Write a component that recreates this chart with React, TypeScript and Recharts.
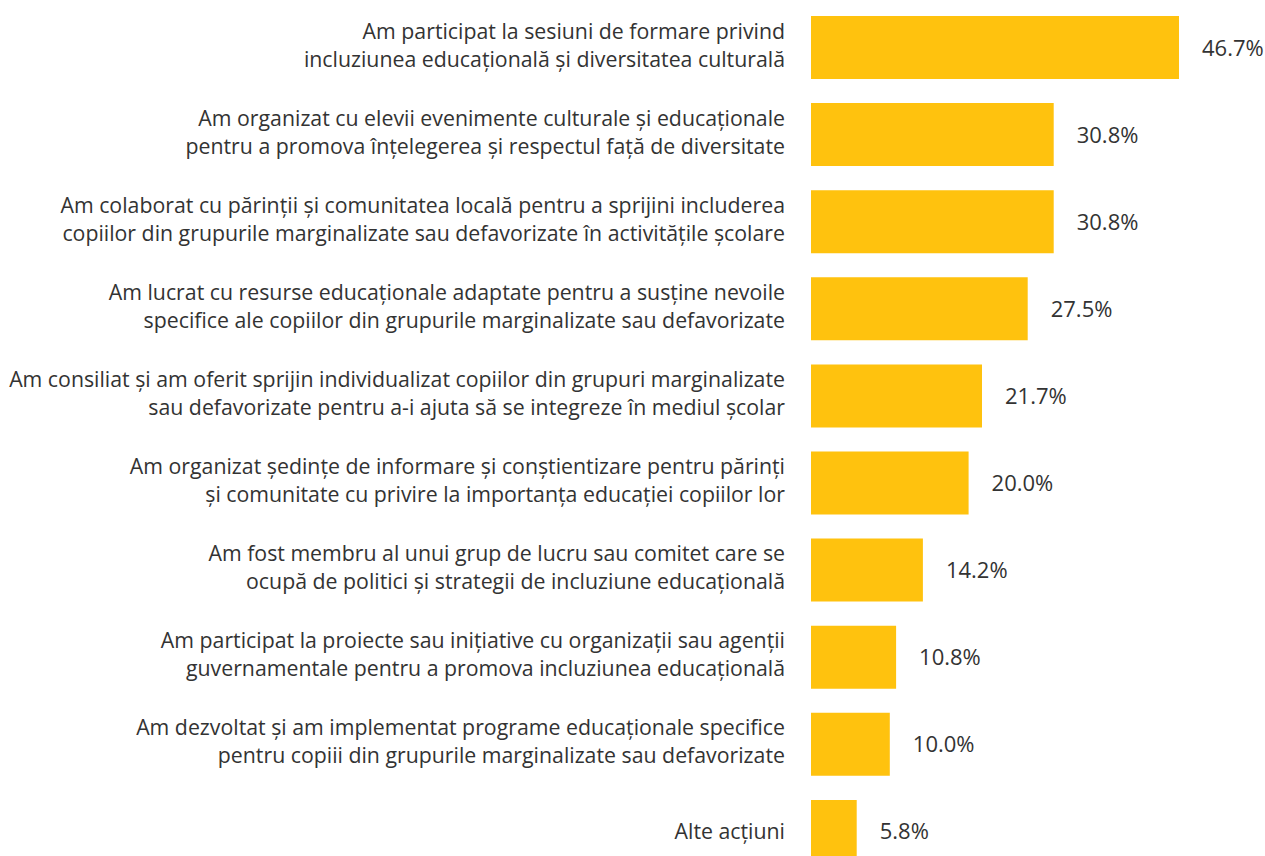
import { BarChart, Bar, XAxis, YAxis, LabelList } from "recharts"

const categories = [
  "Am participat la sesiuni de formare privind\nincluziunea educațională și diversitatea culturală",
  "Am organizat cu elevii evenimente culturale și educaționale\npentru a promova înțelegerea și respectul față de diversitate",
  "Am colaborat cu părinții și comunitatea locală pentru a sprijini includerea\ncopiilor din grupurile marginalizate sau defavorizate în activitățile școlare",
  "Am lucrat cu resurse educaționale adaptate pentru a susține nevoile\nspecifice ale copiilor din grupurile marginalizate sau defavorizate",
  "Am consiliat și am oferit sprijin individualizat copiilor din grupuri marginalizate\nsau defavorizate pentru a-i ajuta să se integreze în mediul școlar",
  "Am organizat ședințe de informare și conștientizare pentru părinți\nși comunitate cu privire la importanța educației copiilor lor",
  "Am fost membru al unui grup de lucru sau comitet care se\nocupă de politici și strategii de incluziune educațională",
  "Am participat la proiecte sau inițiative cu organizații sau agenții\nguvernamentale pentru a promova incluziunea educațională",
  "Am dezvoltat și am implementat programe educaționale specifice\npentru copiii din grupurile marginalizate sau defavorizate",
  "Alte acțiuni",
]

const values = [46.7, 30.8, 30.8, 27.5, 21.7, 20.0, 14.2, 10.8, 10.0, 5.8]

const data = categories.map((name, i) => ({ name, value: values[i] }))

const FONT = "'Open Sans', sans-serif"
const TEXT = "#333333"
const BAR = "#FFC20E"

const CategoryTick = (props: any) => {
  const { x, y, payload } = props
  const lines: string[] = String(payload.value).split("\n")
  const x0 = x - 18
  if (lines.length === 1) {
    return (
      <text x={x0} y={y + 8} textAnchor="end" fill={TEXT} fontSize={21.3} fontFamily={FONT}>
        {lines[0]}
      </text>
    )
  }
  return (
    <text x={x0} y={y} textAnchor="end" fill={TEXT} fontSize={21.3} fontFamily={FONT}>
      <tspan x={x0} y={y - 9}>{lines[0]}</tspan>
      <tspan x={x0} y={y + 19}>{lines[1]}</tspan>
    </text>
  )
}

const ValueLabel = (props: any) => {
  const { x, y, width, height, value } = props
  return (
    <text
      x={x + width + 23}
      y={y + height / 2 + 8}
      fill={TEXT}
      fontSize={22}
      fontFamily={FONT}
    >
      {`${Number(value).toFixed(1)}%`}
    </text>
  )
}

export default function App() {
  return (
    <div
      style={{
        position: "fixed",
        top: 0,
        left: 0,
        width: 1265,
        height: 856,
        overflow: "hidden",
        background: "#ffffff",
      }}
    >
      <BarChart
        width={1265}
        height={875}
        data={data}
        layout="vertical"
        margin={{ top: 4, right: 60, bottom: 0, left: 0 }}
      >
        <XAxis type="number" domain={[0, 50]} hide />
        <YAxis
          type="category"
          dataKey="name"
          width={811}
          axisLine={false}
          tickLine={false}
          tick={<CategoryTick />}
          interval={0}
        />
        <Bar dataKey="value" fill={BAR} barSize={63} isAnimationActive={false}>
          <LabelList dataKey="value" content={<ValueLabel />} />
        </Bar>
      </BarChart>
    </div>
  )
}
